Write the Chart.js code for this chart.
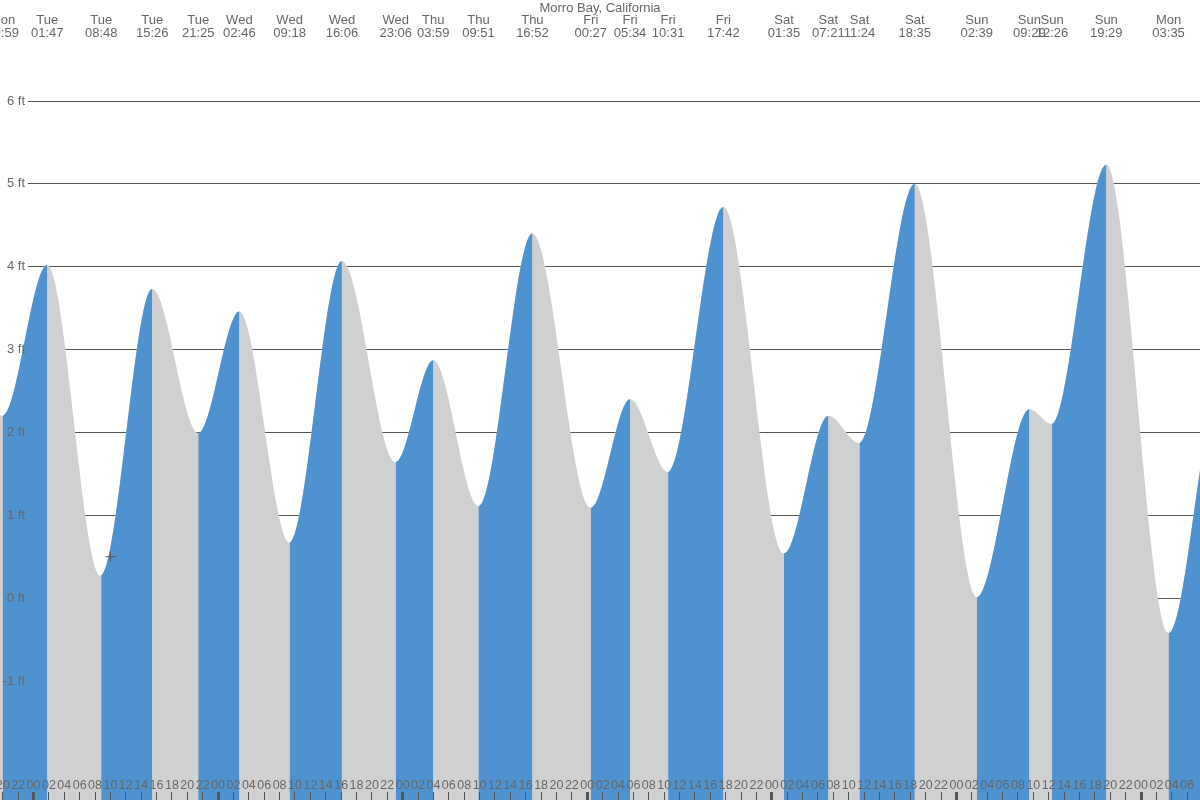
<!DOCTYPE html>
<html>
<head>
<meta charset="utf-8">
<title>Morro Bay, California</title>
<script src="https://cdn.jsdelivr.net/npm/chart.js@4"></script>
<style>
  html, body { margin: 0; padding: 0; background: #fff; }
  canvas { display: block; }
</style>
</head>
<body>
<canvas id="tideChart" width="1200" height="800"></canvas>
<script>
// high / low tides
// (first two and last two are just outside the visible window, estimated)
const tideDays  = ['Mon', 'Mon', 'Mon', 'Tue', 'Tue', 'Tue', 'Tue', 'Wed', 'Wed', 'Wed', 'Wed',
                   'Thu', 'Thu', 'Thu', 'Fri', 'Fri', 'Fri', 'Fri', 'Sat', 'Sat', 'Sat', 'Sat',
                   'Sun', 'Sun', 'Sun', 'Sun', 'Mon', 'Mon', 'Mon'];
const tideClock = ['07:10', '13:40', '19:59', '01:47', '08:48', '15:26', '21:25', '02:46', '09:18', '16:06', '23:06',
                   '03:59', '09:51', '16:52', '00:27', '05:34', '10:31', '17:42', '01:35', '07:21', '11:24', '18:35',
                   '02:39', '09:29', '12:26', '19:29', '03:35', '10:10', '13:40'];
const tideFeet  = [0.9, 3.6, 2.20, 4.02, 0.27, 3.73, 1.99, 3.46, 0.67, 4.07, 1.64,
                   2.87, 1.11, 4.40, 1.09, 2.40, 1.52, 4.72, 0.54, 2.20, 1.87, 5.00,
                   0.01, 2.28, 2.10, 5.23, -0.42, 2.48, 2.1];

// current time marker
const nowDay = 'Tue';
const nowClock = '10:00';
const nowFeet = 0.5;

const feetTicks = [-1, 0, 1, 2, 3, 4, 5, 6];

const BLUE = '#4e93cf';
const GRAY = '#d0d0d0';
const TEXT = '#666666';
const LINE = '#555555';

const dayNames = ['Mon', 'Tue', 'Wed', 'Thu', 'Fri', 'Sat', 'Sun'];

function clockHours(clock) {
    const [hh, mm] = clock.split(':').map(Number);
    return hh + mm / 60;
}

// hours since Monday 00:00
let dayCount = 0;
const tideHours = tideClock.map((c, i) => {
    if (i > 0 && tideDays[i] !== tideDays[i - 1]) dayCount++;
    return dayCount * 24 + clockHours(c);
});
const nowHour = dayNames.indexOf(nowDay) * 24 + clockHours(nowClock);

// visible window
const W = 1200, H = 800, TOP = 15;
const xMin = 19.644, xMax = 175.67;
const yMin = -2.436, yMax = 7.038;

// pixel -> axis value, only used to place the axes
const xAt = px => xMin + px / W * (xMax - xMin);
const yAt = py => yMax - (py - TOP) / (H - TOP) * (yMax - yMin);

// hour ticks every 2 hours
const hourTicks = [];
for (let h = Math.ceil(xMin / 2) * 2; h <= xMax; h += 2) hourTicks.push(h);

// top labels only for the tides inside the window
const shown = tideHours.map((h, i) => i).filter(i => tideHours[i] >= xMin && tideHours[i] <= xMax);

const tidePoints = tideHours.map((h, i) => ({ x: h, y: tideFeet[i] }));

function noPad(scale) {
    scale.paddingLeft = 0;
    scale.paddingRight = 0;
    scale.paddingTop = 0;
    scale.paddingBottom = 0;
}

Chart.defaults.font.family = "'Liberation Sans', Arial, sans-serif";
Chart.defaults.font.size = 13;
Chart.defaults.color = TEXT;

const ctx = document.querySelector('#tideChart');

const config = {
    type: 'line',
    data: {
        datasets: [
            {
                type: 'scatter',
                data: [{ x: nowHour, y: nowFeet }],
                pointStyle: 'cross',
                pointRadius: 5,
                borderColor: LINE,
                borderWidth: 1,
                order: 0
            },
            // rising tide, blue
            {
                data: tidePoints,
                cubicInterpolationMode: 'monotone',
                borderWidth: 0,
                pointRadius: 0,
                fill: 'start',
                backgroundColor: 'rgba(0,0,0,0)',
                segment: {
                    backgroundColor: c => c.p1.parsed.y > c.p0.parsed.y ? BLUE : 'rgba(0,0,0,0)'
                },
                order: 1
            },
            // whole tide area, gray (falling parts show through)
            {
                data: tidePoints,
                cubicInterpolationMode: 'monotone',
                borderWidth: 0,
                pointRadius: 0,
                fill: 'start',
                backgroundColor: GRAY,
                order: 2
            }
        ]
    },
    options: {
        responsive: false,
        animation: false,
        events: [],
        layout: { padding: 0, autoPadding: false },
        plugins: {
            legend: { display: false },
            tooltip: { enabled: false },
            title: {
                display: true,
                text: 'Morro Bay, California',
                color: TEXT,
                font: { size: 13, weight: 'normal', lineHeight: '14px' },
                padding: { top: 1, bottom: 0 }
            }
        },
        scales: {
            // data axis, draws the small hour tick marks at the bottom
            x: {
                type: 'linear',
                min: xMin,
                max: xMax,
                position: { y: yAt(792) },
                afterBuildTicks: s => { s.ticks = hourTicks.map(v => ({ value: v })); },
                afterFit: noPad,
                border: { display: false },
                grid: {
                    z: 1,
                    drawOnChartArea: false,
                    tickLength: 8,
                    tickColor: LINE,
                    tickWidth: c => (c.tick && c.tick.value % 24 === 0) ? 3 : 1
                },
                ticks: { display: false }
            },
            // hour labels along the bottom
            xHours: {
                type: 'linear',
                axis: 'x',
                min: xMin,
                max: xMax,
                position: { y: yAt(770.5) },
                afterBuildTicks: s => { s.ticks = hourTicks.map(v => ({ value: v })); },
                afterFit: noPad,
                border: { display: false },
                grid: { display: false },
                ticks: {
                    z: 1,
                    autoSkip: false,
                    maxRotation: 0,
                    minRotation: 0,
                    padding: 0,
                    color: TEXT,
                    font: { size: 12.5 },
                    callback: v => String(((v % 24) + 24) % 24).padStart(2, '0')
                }
            },
            // high / low tide times along the top
            xTides: {
                type: 'linear',
                axis: 'x',
                min: xMin,
                max: xMax,
                position: { y: yAt(5.5) },
                afterBuildTicks: s => { s.ticks = shown.map(i => ({ value: tideHours[i] })); },
                afterFit: noPad,
                border: { display: false },
                grid: { display: false },
                ticks: {
                    z: 1,
                    autoSkip: false,
                    maxRotation: 0,
                    minRotation: 0,
                    padding: 0,
                    color: TEXT,
                    font: { size: 13, lineHeight: '13px' },
                    callback: (v, idx) => [tideDays[shown[idx]], tideClock[shown[idx]]]
                }
            },
            // data axis, its long tick marks are the horizontal guide lines
            y: {
                type: 'linear',
                min: yMin,
                max: yMax,
                position: { x: xMax },
                afterBuildTicks: s => { s.ticks = feetTicks.map(v => ({ value: v })); },
                afterFit: noPad,
                border: { display: false },
                grid: {
                    drawOnChartArea: false,
                    tickLength: W - 28,
                    tickColor: LINE,
                    tickWidth: 1
                },
                ticks: { display: false }
            },
            // "ft" labels, drawn over the fill
            yLabels: {
                type: 'linear',
                axis: 'y',
                min: yMin,
                max: yMax,
                position: { x: xAt(25) },
                afterBuildTicks: s => { s.ticks = feetTicks.map(v => ({ value: v })); },
                afterFit: noPad,
                border: { display: false },
                grid: { display: false },
                ticks: {
                    z: 1,
                    padding: 0,
                    color: TEXT,
                    callback: v => v + ' ft'
                }
            }
        }
    }
};

const chart = new Chart(ctx, config);
</script>
</body>
</html>
